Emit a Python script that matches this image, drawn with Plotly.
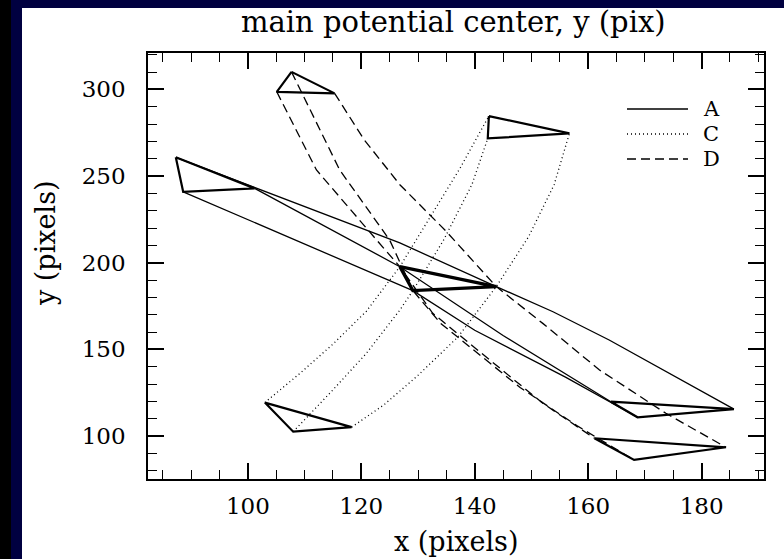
import plotly.graph_objects as go

# ---------------- data ----------------
# triangles (three vertices each)
TRI_A_START_X = [87.3, 88.6, 101.2]
TRI_A_START_Y = [260.8, 240.9, 242.9]
TRI_CENTER_X = [126.8, 129.1, 143.8]
TRI_CENTER_Y = [197.7, 183.9, 186.2]
TRI_A_END_X = [164.0, 168.7, 185.7]
TRI_A_END_Y = [119.8, 110.8, 115.5]
TRI_D_START_X = [107.7, 105.1, 115.3]
TRI_D_START_Y = [310.1, 298.6, 297.7]
TRI_D_END_X = [161.1, 168.1, 184.3]
TRI_D_END_Y = [98.7, 86.2, 93.5]
TRI_C_START_X = [103.0, 108.0, 118.3]
TRI_C_START_Y = [119.3, 102.5, 105.1]
TRI_C_END_X = [142.5, 142.3, 156.7]
TRI_C_END_Y = [284.6, 271.7, 274.6]

# trajectories of the three vertices, model A (solid)
A_PATHS_X = [
    [87.3, 101.2, 126.8, 143.8, 153.8, 163.7, 185.7],
    [101.2, 114.0, 126.8, 145.0, 164.0],
    [88.6, 108.0, 129.1, 140.0, 156.0, 168.7],
]
A_PATHS_Y = [
    [260.8, 243.3, 211.4, 186.2, 171.7, 155.4, 115.5],
    [242.9, 220.3, 197.7, 158.0, 119.8],
    [240.9, 213.8, 183.9, 161.0, 134.0, 110.8],
]
# model C (dotted)
C_PATHS_X = [
    [103.0, 109.2, 115.0, 120.9, 126.8, 132.6, 137.5, 142.5],
    [108.0, 115.0, 120.9, 126.8, 129.1, 134.5, 139.5, 142.3],
    [118.3, 124.0, 130.0, 137.0, 143.8, 149.5, 154.0, 156.7],
]
C_PATHS_Y = [
    [119.3, 136.2, 153.0, 172.0, 197.7, 228.5, 255.0, 284.6],
    [102.5, 126.6, 147.7, 172.7, 183.9, 213.0, 245.0, 271.7],
    [105.1, 118.0, 135.0, 157.0, 186.2, 215.0, 245.0, 274.6],
]
# model D (dashed)
D_PATHS_X = [
    [115.3, 120.5, 126.8, 135.0, 143.8, 152.0, 162.0, 173.7, 184.3],
    [105.1, 112.1, 122.7, 126.8, 132.6, 146.1, 152.0, 161.1],
    [107.7, 116.2, 125.0, 129.1, 134.0, 148.0, 158.0, 168.1],
]
D_PATHS_Y = [
    [297.7, 271.0, 245.0, 218.0, 186.2, 165.0, 138.1, 113.1, 93.5],
    [298.6, 253.5, 213.1, 197.7, 170.8, 134.3, 118.9, 98.7],
    [310.1, 253.5, 213.1, 183.9, 165.0, 128.0, 106.0, 86.2],
]

MODEL_NAMES = ["A", "C", "D"]
X_TICKS = [100, 120, 140, 160, 180]
Y_TICKS = [100, 150, 200, 250, 300]

# ---------------- styling ----------------
FONT = "DejaVu Serif"
DASHES = {"A": "solid", "C": "1px,3px", "D": "9px,5px"}

W, H = 784, 559
ML, MR, MT, MB = 148, 20, 53, 80
PW, PH = W - ML - MR, H - MT - MB


def px_to_paper_x(p):
    return (p - ML) / PW


def px_to_paper_y(p):
    return (H - MB - p) / PH


fig = go.Figure()

for name, xs, ys in [("A", A_PATHS_X, A_PATHS_Y), ("C", C_PATHS_X, C_PATHS_Y),
                     ("D", D_PATHS_X, D_PATHS_Y)]:
    for x, y in zip(xs, ys):
        fig.add_trace(go.Scatter(x=x, y=y, mode="lines", name=name, showlegend=False,
                                 line=dict(color="black", width=1.3, dash=DASHES[name]),
                                 hoverinfo="skip"))

triangles = [
    (TRI_A_START_X, TRI_A_START_Y, 2.2),
    (TRI_A_END_X, TRI_A_END_Y, 2.2),
    (TRI_D_START_X, TRI_D_START_Y, 2.2),
    (TRI_D_END_X, TRI_D_END_Y, 2.2),
    (TRI_C_START_X, TRI_C_START_Y, 2.2),
    (TRI_C_END_X, TRI_C_END_Y, 2.2),
    (TRI_CENTER_X, TRI_CENTER_Y, 3.2),
]
for tx, ty, w in triangles:
    fig.add_trace(go.Scatter(x=tx + tx[:1], y=ty + ty[:1], mode="lines", showlegend=False,
                             line=dict(color="black", width=w), hoverinfo="skip"))

# background panels
shapes = [
    dict(type="rect", xref="paper", yref="paper", layer="below",
         x0=px_to_paper_x(22), x1=px_to_paper_x(W + 5),
         y0=px_to_paper_y(H + 5), y1=px_to_paper_y(8),
         fillcolor="white", line=dict(width=0)),
    dict(type="rect", xref="paper", yref="paper", layer="below",
         x0=px_to_paper_x(-5), x1=px_to_paper_x(11),
         y0=px_to_paper_y(H + 5), y1=px_to_paper_y(-5),
         fillcolor="black", line=dict(width=0)),
]
annotations = []
# legend (manual, to get long line samples like the original)
for i, name in enumerate(MODEL_NAMES):
    yp = px_to_paper_y(109 + 25 * i)
    shapes.append(dict(type="line", xref="paper", yref="paper",
                       x0=px_to_paper_x(627), x1=px_to_paper_x(688), y0=yp, y1=yp,
                       line=dict(color="black", width=1.6, dash=DASHES[name])))
    annotations.append(dict(text=name, xref="paper", yref="paper",
                            x=px_to_paper_x(701), y=yp, xanchor="left", yanchor="middle",
                            showarrow=False, font=dict(family=FONT, size=21, color="black")))

annotations += [
    dict(text="main potential center, y (pix)", xref="paper", yref="paper",
         x=px_to_paper_x(453), y=px_to_paper_y(22), xanchor="center", yanchor="middle",
         showarrow=False, font=dict(family=FONT, size=29, color="black")),
    dict(text="x (pixels)", xref="paper", yref="paper",
         x=px_to_paper_x(456), y=px_to_paper_y(541), xanchor="center", yanchor="middle",
         showarrow=False, font=dict(family=FONT, size=27, color="black")),
    dict(text="y (pixels)", xref="paper", yref="paper", textangle=-90,
         x=px_to_paper_x(45), y=px_to_paper_y(243), xanchor="center", yanchor="middle",
         showarrow=False, font=dict(family=FONT, size=27, color="black")),
]

axis_common = dict(showgrid=False, zeroline=False, showline=True, linecolor="black",
                   linewidth=1.5, mirror="ticks", ticks="inside", ticklen=16,
                   tickwidth=1.5, tickcolor="black",
                   tickfont=dict(family=FONT, size=23, color="black"))

fig.update_layout(
    width=W, height=H,
    margin=dict(l=ML, r=MR, t=MT, b=MB),
    paper_bgcolor="#000040", plot_bgcolor="white",
    showlegend=False,
    xaxis=dict(range=[82.4, 191.0], tickvals=X_TICKS, ticklabelstandoff=6,
               minor=dict(dtick=5, tick0=0, ticklen=9, ticks="inside",
                          tickcolor="black", tickwidth=1.2),
               **axis_common),
    yaxis=dict(range=[75.2, 321.0], tickvals=Y_TICKS, ticklabelstandoff=16,
               minor=dict(dtick=10, tick0=0, ticklen=9, ticks="inside",
                          tickcolor="black", tickwidth=1.2),
               **axis_common),
    shapes=shapes, annotations=annotations,
)

fig.write_html("out.html")
